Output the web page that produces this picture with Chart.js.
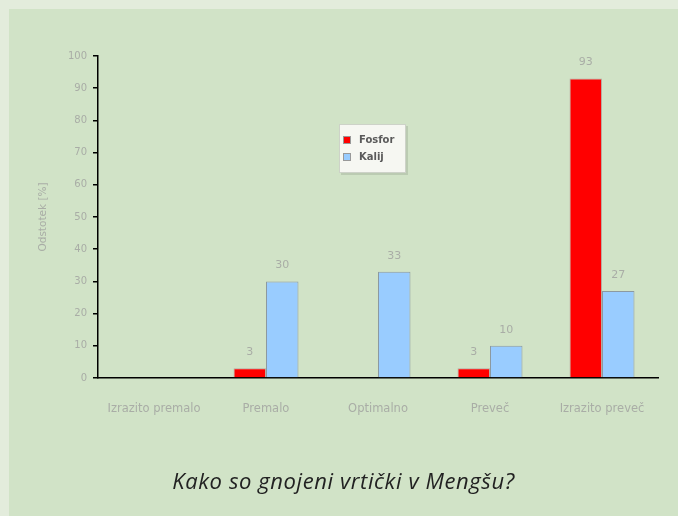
<!DOCTYPE html>
<html>
<head>
<meta charset="utf-8">
<script src="https://cdn.jsdelivr.net/npm/chart.js@4"></script>
<style>
  html, body { margin: 0; padding: 0; }
  body { width: 678px; height: 516px; background: #e3ecdc; position: relative; overflow: hidden; }
  .panel { position: absolute; left: 9px; top: 9px; width: 669px; height: 507px; background: #d1e3c7; }
  .panel canvas { position: absolute; left: 0; top: 0; }
  .caption {
    position: absolute; left: 0; width: 669px; top: 456px; text-align: center;
    font-family: "Open Sans", sans-serif; font-style: italic; font-size: 22px; letter-spacing: 0.6px; color: #222;
  }
</style>
</head>
<body>
<div class="panel">
  <canvas id="chart" width="669" height="507"></canvas>
  <div class="caption">Kako so gnojeni vrtički v Mengšu?</div>
</div>
<script>
const categories = ['Izrazito premalo', 'Premalo', 'Optimalno', 'Preveč', 'Izrazito preveč'];
const fosforValues = [0, 3, 0, 3, 93];
const kalijValues = [0, 30, 33, 10, 27];
const yTicks = [0, 10, 20, 30, 40, 50, 60, 70, 80, 90, 100];

const grayText = '#a9ada6';

// small numbers above the bars
const barLabels = {
    id: 'barLabels',
    afterDatasetsDraw(chart) {
        const ctx = chart.ctx;
        ctx.save();
        ctx.font = '11px "DejaVu Sans", sans-serif';
        ctx.fillStyle = grayText;
        ctx.textAlign = 'center';
        ctx.textBaseline = 'middle';
        chart.data.datasets.forEach((ds, i) => {
            chart.getDatasetMeta(i).data.forEach((bar, j) => {
                if (!ds.data[j]) return;
                ctx.fillText(String(ds.data[j]), bar.x, bar.y - 16);
            });
        });
        ctx.restore();
    },
};

// legend box inside the plot
const boxLegend = {
    id: 'boxLegend',
    afterDraw(chart) {
        const ctx = chart.ctx;
        const area = chart.chartArea;
        const x = Math.round(area.left + (area.right - area.left) * 0.43);
        const y = Math.round(area.top + (area.bottom - area.top) * 0.21);
        const w = 67, h = 49;
        ctx.save();
        ctx.fillStyle = 'rgba(0,0,0,0.10)';
        ctx.fillRect(x + 2, y + 2, w, h);
        ctx.fillStyle = '#f6f7f2';
        ctx.fillRect(x, y, w, h);
        ctx.strokeStyle = '#cdd2c8';
        ctx.lineWidth = 1;
        ctx.strokeRect(x + 0.5, y + 0.5, w - 1, h - 1);
        ctx.font = 'bold 10px "DejaVu Sans", sans-serif';
        ctx.textBaseline = 'middle';
        chart.data.datasets.forEach((ds, i) => {
            const cy = y + 16 + i * 17;
            ctx.fillStyle = ds.backgroundColor;
            ctx.fillRect(x + 4, cy - 4, 8, 8);
            ctx.strokeStyle = '#999';
            ctx.strokeRect(x + 4.5, cy - 3.5, 7, 7);
            ctx.fillStyle = '#5a5a5a';
            ctx.fillText(ds.label, x + 20, cy);
        });
        ctx.restore();
    },
};

new Chart(document.getElementById('chart'), {
    type: 'bar',
    data: {
        labels: categories,
        datasets: [
            {
                label: 'Fosfor',
                data: fosforValues,
                backgroundColor: '#ff0000',
                borderColor: '#b9a9a0',
                borderWidth: 1,
                categoryPercentage: 0.58,
                barPercentage: 1,
            },
            {
                label: 'Kalij',
                data: kalijValues,
                backgroundColor: '#99ccff',
                borderColor: '#8c99a0',
                borderWidth: 1,
                categoryPercentage: 0.58,
                barPercentage: 1,
            },
        ],
    },
    options: {
        responsive: false,
        animation: false,
        layout: { padding: { left: 0, right: 20, top: 47, bottom: 98 } },
        plugins: {
            legend: { display: false },
            tooltip: { enabled: false },
        },
        scales: {
            x: {
                grid: { display: false },
                border: { display: true, color: '#000', width: 1.5 },
                ticks: {
                    color: grayText,
                    font: { size: 11.5, family: '"DejaVu Sans", sans-serif' },
                    padding: 16,
                    maxRotation: 0,
                },
                afterFit(scale) { scale.height = 40; },
            },
            y: {
                min: 0,
                max: 100,
                afterBuildTicks(scale) { scale.ticks = yTicks.map((v) => ({ value: v })); },
                grid: { drawOnChartArea: false, drawTicks: true, tickLength: 5, color: '#000', lineWidth: 1.5 },
                border: { display: true, color: '#000', width: 1.5 },
                ticks: {
                    color: grayText,
                    font: { size: 10, family: '"DejaVu Sans", sans-serif' },
                    padding: 6,
                },
                title: {
                    display: true,
                    text: 'Odstotek [%]',
                    color: grayText,
                    font: { size: 10.5, family: '"DejaVu Sans", sans-serif' },
                    padding: { top: 28, bottom: 0 },
                },
                afterFit(scale) { scale.width = 89; },
            },
        },
    },
    plugins: [barLabels, boxLegend],
});
</script>
</body>
</html>
